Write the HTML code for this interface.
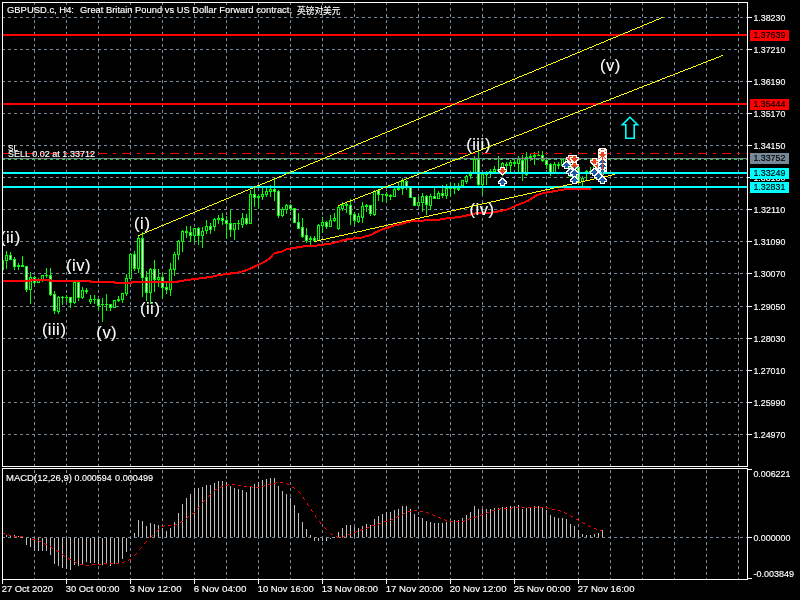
<!DOCTYPE html><html><head><meta charset="utf-8"><title>GBPUSD.c, H4</title>
<style>html,body{margin:0;padding:0;background:#000;width:800px;height:600px;overflow:hidden}svg{display:block;position:absolute;left:0;top:0}text{font-family:"Liberation Sans","Noto Sans CJK SC",sans-serif;font-size:9.6px;fill:#fff;white-space:pre;stroke:#fff;stroke-width:.15px}.w{font-size:16.6px;stroke:#fff;stroke-width:.1px}.k{fill:#000;stroke:#000}</style></head><body>
<svg width="800" height="600" viewBox="0 0 800 600">
<rect width="800" height="600" fill="#000"/>
<g shape-rendering="crispEdges" fill="none">
<g stroke="#778899" stroke-width="1" stroke-dasharray="3 3">
<line x1="34.5" y1="2" x2="34.5" y2="466"/>
<line x1="34.5" y1="470" x2="34.5" y2="579"/>
<line x1="66.5" y1="2" x2="66.5" y2="466"/>
<line x1="66.5" y1="470" x2="66.5" y2="579"/>
<line x1="98.5" y1="2" x2="98.5" y2="466"/>
<line x1="98.5" y1="470" x2="98.5" y2="579"/>
<line x1="130.5" y1="2" x2="130.5" y2="466"/>
<line x1="130.5" y1="470" x2="130.5" y2="579"/>
<line x1="162.5" y1="2" x2="162.5" y2="466"/>
<line x1="162.5" y1="470" x2="162.5" y2="579"/>
<line x1="194.5" y1="2" x2="194.5" y2="466"/>
<line x1="194.5" y1="470" x2="194.5" y2="579"/>
<line x1="226.5" y1="2" x2="226.5" y2="466"/>
<line x1="226.5" y1="470" x2="226.5" y2="579"/>
<line x1="258.5" y1="2" x2="258.5" y2="466"/>
<line x1="258.5" y1="470" x2="258.5" y2="579"/>
<line x1="290.5" y1="2" x2="290.5" y2="466"/>
<line x1="290.5" y1="470" x2="290.5" y2="579"/>
<line x1="322.5" y1="2" x2="322.5" y2="466"/>
<line x1="322.5" y1="470" x2="322.5" y2="579"/>
<line x1="354.5" y1="2" x2="354.5" y2="466"/>
<line x1="354.5" y1="470" x2="354.5" y2="579"/>
<line x1="386.5" y1="2" x2="386.5" y2="466"/>
<line x1="386.5" y1="470" x2="386.5" y2="579"/>
<line x1="418.5" y1="2" x2="418.5" y2="466"/>
<line x1="418.5" y1="470" x2="418.5" y2="579"/>
<line x1="450.5" y1="2" x2="450.5" y2="466"/>
<line x1="450.5" y1="470" x2="450.5" y2="579"/>
<line x1="482.5" y1="2" x2="482.5" y2="466"/>
<line x1="482.5" y1="470" x2="482.5" y2="579"/>
<line x1="514.5" y1="2" x2="514.5" y2="466"/>
<line x1="514.5" y1="470" x2="514.5" y2="579"/>
<line x1="546.5" y1="2" x2="546.5" y2="466"/>
<line x1="546.5" y1="470" x2="546.5" y2="579"/>
<line x1="578.5" y1="2" x2="578.5" y2="466"/>
<line x1="578.5" y1="470" x2="578.5" y2="579"/>
<line x1="610.5" y1="2" x2="610.5" y2="466"/>
<line x1="610.5" y1="470" x2="610.5" y2="579"/>
<line x1="642.5" y1="2" x2="642.5" y2="466"/>
<line x1="642.5" y1="470" x2="642.5" y2="579"/>
<line x1="674.5" y1="2" x2="674.5" y2="466"/>
<line x1="674.5" y1="470" x2="674.5" y2="579"/>
<line x1="706.5" y1="2" x2="706.5" y2="466"/>
<line x1="706.5" y1="470" x2="706.5" y2="579"/>
<line x1="738.5" y1="2" x2="738.5" y2="466"/>
<line x1="738.5" y1="470" x2="738.5" y2="579"/>
<line x1="2" y1="17.5" x2="748" y2="17.5"/>
<line x1="2" y1="49.5" x2="748" y2="49.5"/>
<line x1="2" y1="81.5" x2="748" y2="81.5"/>
<line x1="2" y1="113.5" x2="748" y2="113.5"/>
<line x1="2" y1="145.5" x2="748" y2="145.5"/>
<line x1="2" y1="177.5" x2="748" y2="177.5"/>
<line x1="2" y1="209.5" x2="748" y2="209.5"/>
<line x1="2" y1="241.5" x2="748" y2="241.5"/>
<line x1="2" y1="273.5" x2="748" y2="273.5"/>
<line x1="2" y1="306.5" x2="748" y2="306.5"/>
<line x1="2" y1="338.5" x2="748" y2="338.5"/>
<line x1="2" y1="370.5" x2="748" y2="370.5"/>
<line x1="2" y1="402.5" x2="748" y2="402.5"/>
<line x1="2" y1="434.5" x2="748" y2="434.5"/>
<line x1="2" y1="537.5" x2="748" y2="537.5"/>
</g>
</g>
<g shape-rendering="crispEdges">
<path fill="#c0c0c0" d="M6 535h1v2h-1zM10 535h1v2h-1zM14 535h1v2h-1zM18 536h1v1h-1zM22 537h1v1h-1zM26 538h1v7h-1zM30 538h1v9h-1zM34 538h1v13h-1zM38 538h1v13h-1zM42 538h1v13h-1zM46 538h1v13h-1zM50 538h1v17h-1zM54 538h1v26h-1zM58 538h1v28h-1zM62 538h1v30h-1zM66 538h1v31h-1zM70 538h1v32h-1zM74 538h1v27h-1zM78 538h1v28h-1zM82 538h1v26h-1zM86 538h1v24h-1zM90 538h1v25h-1zM94 538h1v25h-1zM98 538h1v27h-1zM102 538h1v27h-1zM106 538h1v26h-1zM110 538h1v28h-1zM114 538h1v26h-1zM118 538h1v26h-1zM122 538h1v21h-1zM126 538h1v14h-1zM130 538h1v1h-1zM134 533h1v4h-1zM138 520h1v17h-1zM142 521h1v16h-1zM146 526h1v11h-1zM150 523h1v14h-1zM154 524h1v13h-1zM158 525h1v12h-1zM162 528h1v9h-1zM166 531h1v6h-1zM170 528h1v9h-1zM174 522h1v15h-1zM178 513h1v24h-1zM182 504h1v33h-1zM186 498h1v39h-1zM190 494h1v43h-1zM194 488h1v49h-1zM198 488h1v49h-1zM202 487h1v50h-1zM206 485h1v52h-1zM210 485h1v52h-1zM214 483h1v54h-1zM218 481h1v56h-1zM222 481h1v56h-1zM226 482h1v55h-1zM230 486h1v51h-1zM234 488h1v49h-1zM238 489h1v48h-1zM242 490h1v47h-1zM246 492h1v45h-1zM250 486h1v51h-1zM254 484h1v53h-1zM258 482h1v55h-1zM262 480h1v57h-1zM266 479h1v58h-1zM270 478h1v59h-1zM274 478h1v59h-1zM278 486h1v51h-1zM282 491h1v46h-1zM286 494h1v43h-1zM290 498h1v39h-1zM294 505h1v32h-1zM298 513h1v24h-1zM302 522h1v15h-1zM306 529h1v8h-1zM310 535h1v2h-1zM314 538h1v3h-1zM318 538h1v3h-1zM322 538h1v3h-1zM326 538h1v3h-1zM330 538h1v1h-1zM334 537h1v1h-1zM338 532h1v5h-1zM342 528h1v9h-1zM346 525h1v12h-1zM350 525h1v12h-1zM354 527h1v10h-1zM358 528h1v9h-1zM362 526h1v11h-1zM366 524h1v13h-1zM370 525h1v12h-1zM374 519h1v18h-1zM378 516h1v21h-1zM382 514h1v23h-1zM386 512h1v25h-1zM390 512h1v25h-1zM394 510h1v27h-1zM398 509h1v28h-1zM402 506h1v31h-1zM406 506h1v31h-1zM410 509h1v28h-1zM414 514h1v23h-1zM418 517h1v20h-1zM422 518h1v19h-1zM426 521h1v16h-1zM430 522h1v15h-1zM434 523h1v14h-1zM438 523h1v14h-1zM442 523h1v14h-1zM446 522h1v15h-1zM450 521h1v16h-1zM454 520h1v17h-1zM458 520h1v17h-1zM462 518h1v19h-1zM466 515h1v22h-1zM470 512h1v25h-1zM474 506h1v31h-1zM478 509h1v28h-1zM482 509h1v28h-1zM486 509h1v28h-1zM490 509h1v28h-1zM494 508h1v29h-1zM498 508h1v29h-1zM502 507h1v30h-1zM506 507h1v30h-1zM510 506h1v31h-1zM514 506h1v31h-1zM518 505h1v32h-1zM522 509h1v28h-1zM526 508h1v29h-1zM530 507h1v30h-1zM534 506h1v31h-1zM538 506h1v31h-1zM542 507h1v30h-1zM546 510h1v27h-1zM550 515h1v22h-1zM554 517h1v20h-1zM558 518h1v19h-1zM562 518h1v19h-1zM566 519h1v18h-1zM570 524h1v13h-1zM574 526h1v11h-1zM578 530h1v7h-1zM582 534h1v3h-1zM586 535h1v2h-1zM590 535h1v2h-1zM594 534h1v3h-1zM598 533h1v4h-1zM602 530h1v7h-1z"/>
<path fill="#ff0000" d="M3 533h1v1h-1zM4 533h1v1h-1zM8 534h1v1h-1zM9 535h1v1h-1zM10 535h1v1h-1zM14 536h1v1h-1zM15 536h1v1h-1zM16 536h1v1h-1zM20 536h1v1h-1zM21 536h1v1h-1zM22 536h1v1h-1zM32 539h1v1h-1zM33 539h1v1h-1zM34 539h1v1h-1zM38 540h1v1h-1zM39 541h1v1h-1zM40 541h1v1h-1zM44 543h1v1h-1zM45 544h1v1h-1zM46 544h1v1h-1zM50 546h1v1h-1zM51 547h1v1h-1zM52 548h1v1h-1zM56 550h1v1h-1zM57 551h1v1h-1zM58 551h1v1h-1zM62 554h1v1h-1zM63 555h1v1h-1zM64 556h1v1h-1zM68 558h1v1h-1zM69 559h1v1h-1zM70 559h1v1h-1zM74 561h1v1h-1zM75 562h1v1h-1zM76 562h1v1h-1zM80 564h1v1h-1zM81 564h1v1h-1zM82 564h1v1h-1zM86 565h1v1h-1zM87 565h1v1h-1zM88 565h1v1h-1zM92 564h1v1h-1zM93 564h1v1h-1zM94 564h1v1h-1zM98 564h1v1h-1zM99 564h1v1h-1zM100 564h1v1h-1zM104 563h1v1h-1zM105 563h1v1h-1zM106 563h1v1h-1zM110 563h1v1h-1zM111 563h1v1h-1zM112 563h1v1h-1zM116 563h1v1h-1zM117 563h1v1h-1zM118 563h1v1h-1zM122 562h1v1h-1zM123 562h1v1h-1zM124 561h1v1h-1zM128 560h1v1h-1zM129 559h1v1h-1zM130 559h1v1h-1zM134 555h1v1h-1zM135 554h1v1h-1zM136 553h1v1h-1zM139 549h1v1h-1zM140 548h1v1h-1zM141 547h1v1h-1zM144 543h1v1h-1zM145 542h1v1h-1zM146 541h1v1h-1zM150 537h1v1h-1zM151 536h1v1h-1zM152 535h1v1h-1zM156 531h1v1h-1zM157 530h1v1h-1zM158 529h1v1h-1zM162 526h1v1h-1zM163 526h1v1h-1zM164 525h1v1h-1zM168 525h1v1h-1zM169 525h1v1h-1zM170 525h1v1h-1zM174 525h1v1h-1zM175 524h1v1h-1zM176 524h1v1h-1zM180 522h1v1h-1zM181 521h1v1h-1zM182 521h1v1h-1zM186 518h1v1h-1zM187 517h1v1h-1zM188 516h1v1h-1zM192 513h1v1h-1zM193 513h1v1h-1zM194 512h1v1h-1zM197 508h1v1h-1zM198 507h1v1h-1zM199 506h1v1h-1zM202 502h1v1h-1zM203 501h1v1h-1zM204 500h1v1h-1zM208 496h1v1h-1zM209 495h1v1h-1zM210 494h1v1h-1zM214 490h1v1h-1zM215 489h1v1h-1zM216 489h1v1h-1zM220 487h1v1h-1zM221 486h1v1h-1zM222 486h1v1h-1zM226 485h1v1h-1zM227 485h1v1h-1zM228 484h1v1h-1zM232 484h1v1h-1zM233 484h1v1h-1zM234 484h1v1h-1zM238 485h1v1h-1zM239 485h1v1h-1zM240 485h1v1h-1zM244 486h1v1h-1zM245 486h1v1h-1zM246 486h1v1h-1zM250 486h1v1h-1zM251 486h1v1h-1zM252 487h1v1h-1zM256 487h1v1h-1zM257 487h1v1h-1zM258 487h1v1h-1zM262 486h1v1h-1zM263 486h1v1h-1zM264 485h1v1h-1zM268 484h1v1h-1zM269 484h1v1h-1zM270 484h1v1h-1zM274 483h1v1h-1zM275 483h1v1h-1zM276 482h1v1h-1zM280 482h1v1h-1zM281 482h1v1h-1zM282 482h1v1h-1zM286 483h1v1h-1zM287 484h1v1h-1zM288 484h1v1h-1zM292 487h1v1h-1zM293 487h1v1h-1zM294 488h1v1h-1zM298 491h1v1h-1zM299 492h1v1h-1zM300 493h1v1h-1zM303 497h1v1h-1zM303 498h1v1h-1zM304 499h1v1h-1zM307 503h1v1h-1zM307 504h1v1h-1zM308 505h1v1h-1zM311 509h1v1h-1zM311 510h1v1h-1zM312 511h1v1h-1zM315 515h1v1h-1zM315 516h1v1h-1zM316 517h1v1h-1zM319 521h1v1h-1zM320 522h1v1h-1zM320 523h1v1h-1zM324 527h1v1h-1zM325 528h1v1h-1zM326 529h1v1h-1zM330 533h1v1h-1zM331 534h1v1h-1zM332 534h1v1h-1zM336 536h1v1h-1zM337 537h1v1h-1zM338 537h1v1h-1zM342 537h1v1h-1zM343 536h1v1h-1zM344 536h1v1h-1zM348 534h1v1h-1zM349 534h1v1h-1zM350 534h1v1h-1zM354 532h1v1h-1zM355 532h1v1h-1zM356 531h1v1h-1zM360 530h1v1h-1zM361 529h1v1h-1zM362 529h1v1h-1zM366 528h1v1h-1zM367 527h1v1h-1zM368 527h1v1h-1zM372 525h1v1h-1zM373 525h1v1h-1zM374 525h1v1h-1zM378 524h1v1h-1zM379 523h1v1h-1zM380 523h1v1h-1zM384 521h1v1h-1zM385 521h1v1h-1zM386 521h1v1h-1zM390 520h1v1h-1zM391 519h1v1h-1zM392 519h1v1h-1zM396 517h1v1h-1zM397 516h1v1h-1zM398 516h1v1h-1zM402 514h1v1h-1zM403 513h1v1h-1zM404 513h1v1h-1zM408 511h1v1h-1zM409 511h1v1h-1zM410 511h1v1h-1zM414 510h1v1h-1zM415 510h1v1h-1zM416 510h1v1h-1zM420 511h1v1h-1zM421 511h1v1h-1zM422 511h1v1h-1zM426 512h1v1h-1zM427 512h1v1h-1zM428 513h1v1h-1zM432 514h1v1h-1zM433 515h1v1h-1zM434 515h1v1h-1zM438 517h1v1h-1zM439 517h1v1h-1zM440 518h1v1h-1zM444 519h1v1h-1zM445 520h1v1h-1zM446 520h1v1h-1zM450 521h1v1h-1zM451 521h1v1h-1zM452 521h1v1h-1zM456 521h1v1h-1zM457 521h1v1h-1zM458 521h1v1h-1zM462 521h1v1h-1zM463 521h1v1h-1zM464 520h1v1h-1zM468 519h1v1h-1zM469 518h1v1h-1zM470 518h1v1h-1zM474 517h1v1h-1zM475 517h1v1h-1zM476 516h1v1h-1zM480 515h1v1h-1zM481 514h1v1h-1zM482 514h1v1h-1zM486 513h1v1h-1zM487 512h1v1h-1zM488 512h1v1h-1zM492 510h1v1h-1zM493 510h1v1h-1zM494 510h1v1h-1zM498 509h1v1h-1zM499 509h1v1h-1zM500 508h1v1h-1zM504 508h1v1h-1zM505 508h1v1h-1zM506 508h1v1h-1zM510 508h1v1h-1zM511 508h1v1h-1zM512 507h1v1h-1zM516 507h1v1h-1zM517 507h1v1h-1zM518 507h1v1h-1zM522 507h1v1h-1zM523 507h1v1h-1zM524 507h1v1h-1zM528 507h1v1h-1zM529 507h1v1h-1zM530 507h1v1h-1zM534 507h1v1h-1zM535 507h1v1h-1zM536 507h1v1h-1zM540 507h1v1h-1zM541 507h1v1h-1zM542 507h1v1h-1zM546 507h1v1h-1zM547 507h1v1h-1zM548 508h1v1h-1zM552 509h1v1h-1zM553 509h1v1h-1zM554 509h1v1h-1zM558 510h1v1h-1zM559 510h1v1h-1zM560 511h1v1h-1zM564 512h1v1h-1zM565 513h1v1h-1zM566 513h1v1h-1zM570 515h1v1h-1zM571 516h1v1h-1zM572 516h1v1h-1zM576 519h1v1h-1zM577 519h1v1h-1zM578 520h1v1h-1zM582 522h1v1h-1zM583 523h1v1h-1zM584 523h1v1h-1zM588 525h1v1h-1zM589 526h1v1h-1zM590 526h1v1h-1zM594 528h1v1h-1zM595 528h1v1h-1zM596 529h1v1h-1zM600 530h1v1h-1zM601 530h1v1h-1z"/>
</g>
<g shape-rendering="crispEdges">
<path fill="#00ff00" d="M2 258h1v15h-1zM6 251h1v18h-1zM10 252h1v8h-1zM14 257h1v13h-1zM18 263h1v7h-1zM22 256h1v11h-1zM26 266h1v26h-1zM30 272h1v32h-1zM34 276h1v10h-1zM38 278h1v5h-1zM42 275h1v7h-1zM46 268h1v10h-1zM50 268h1v28h-1zM54 291h1v23h-1zM58 296h1v18h-1zM62 296h1v9h-1zM66 295h1v7h-1zM70 297h1v11h-1zM74 282h1v22h-1zM78 282h1v19h-1zM82 287h1v12h-1zM86 288h1v6h-1zM90 295h1v9h-1zM94 295h1v9h-1zM98 299h1v12h-1zM102 298h1v24h-1zM106 294h1v17h-1zM110 304h1v7h-1zM114 300h1v8h-1zM118 296h1v6h-1zM122 293h1v10h-1zM126 274h1v22h-1zM130 253h1v26h-1zM134 251h1v20h-1zM138 236h1v37h-1zM142 232h1v65h-1zM146 271h1v30h-1zM150 268h1v36h-1zM154 260h1v32h-1zM158 269h1v18h-1zM162 273h1v26h-1zM166 283h1v11h-1zM170 263h1v33h-1zM174 252h1v24h-1zM178 240h1v20h-1zM182 230h1v22h-1zM186 226h1v12h-1zM190 226h1v16h-1zM194 228h1v14h-1zM198 227h1v18h-1zM202 227h1v21h-1zM206 220h1v14h-1zM210 223h1v11h-1zM214 218h1v13h-1zM218 215h1v9h-1zM222 213h1v12h-1zM226 216h1v23h-1zM230 210h1v27h-1zM234 223h1v17h-1zM238 220h1v10h-1zM242 213h1v15h-1zM246 214h1v11h-1zM250 190h1v34h-1zM254 188h1v19h-1zM258 194h1v15h-1zM262 188h1v12h-1zM266 188h1v9h-1zM270 185h1v12h-1zM274 178h1v23h-1zM278 190h1v28h-1zM282 207h1v10h-1zM286 204h1v10h-1zM290 204h1v7h-1zM294 208h1v15h-1zM298 213h1v16h-1zM302 218h1v20h-1zM306 228h1v15h-1zM310 236h1v10h-1zM314 236h1v6h-1zM318 224h1v17h-1zM322 217h1v16h-1zM326 221h1v8h-1zM330 215h1v12h-1zM334 213h1v9h-1zM338 206h1v24h-1zM342 202h1v9h-1zM346 202h1v11h-1zM350 199h1v26h-1zM354 212h1v13h-1zM358 213h1v10h-1zM362 202h1v21h-1zM366 204h1v8h-1zM370 205h1v11h-1zM374 190h1v26h-1zM378 190h1v11h-1zM382 194h1v8h-1zM386 192h1v11h-1zM390 194h1v6h-1zM394 188h1v9h-1zM398 182h1v9h-1zM402 178h1v17h-1zM406 180h1v10h-1zM410 186h1v12h-1zM414 197h1v9h-1zM418 197h1v9h-1zM422 193h1v19h-1zM426 195h1v20h-1zM430 194h1v16h-1zM434 188h1v11h-1zM438 191h1v8h-1zM442 185h1v13h-1zM446 184h1v15h-1zM450 182h1v15h-1zM454 183h1v11h-1zM458 183h1v8h-1zM462 180h1v6h-1zM466 175h1v9h-1zM470 171h1v8h-1zM474 156h1v18h-1zM478 150h1v37h-1zM482 174h1v21h-1zM486 171h1v14h-1zM490 169h1v8h-1zM494 166h1v7h-1zM498 156h1v15h-1zM502 162h1v8h-1zM506 162h1v9h-1zM510 160h1v12h-1zM514 159h1v8h-1zM518 156h1v16h-1zM522 155h1v26h-1zM526 152h1v24h-1zM530 153h1v8h-1zM534 152h1v13h-1zM538 151h1v5h-1zM542 151h1v11h-1zM546 157h1v12h-1zM550 163h1v13h-1zM554 162h1v11h-1zM558 162h1v7h-1zM562 158h1v8h-1zM566 158h1v9h-1zM570 160h1v17h-1zM574 165h1v18h-1zM578 166h1v19h-1zM582 176h1v11h-1zM586 170h1v11h-1zM590 167h1v8h-1zM594 165h1v8h-1zM598 162h1v14h-1zM602 158h1v19h-1z"/>
<path fill="#00ff00" d="M1 260h3v10h-3zM5 255h3v6h-3zM9 255h3v5h-3zM13 259h3v8h-3zM17 265h3v2h-3zM21 265h3v2h-3zM25 266h3v24h-3zM29 277h3v13h-3zM33 277h3v6h-3zM37 279h3v4h-3zM41 275h3v5h-3zM45 275h3v1h-3zM49 275h3v20h-3zM53 294h3v17h-3zM57 297h3v15h-3zM61 297h3v1h-3zM65 297h3v1h-3zM69 297h3v6h-3zM73 282h3v21h-3zM77 282h3v16h-3zM81 290h3v8h-3zM85 290h3v2h-3zM89 299h3v3h-3zM93 299h3v1h-3zM97 299h3v7h-3zM101 304h3v1h-3zM105 304h3v1h-3zM109 304h3v4h-3zM113 300h3v8h-3zM117 299h3v2h-3zM121 293h3v7h-3zM125 278h3v16h-3zM129 254h3v25h-3zM133 254h3v15h-3zM137 238h3v31h-3zM141 238h3v40h-3zM145 277h3v16h-3zM149 269h3v24h-3zM153 269h3v11h-3zM157 277h3v3h-3zM161 277h3v11h-3zM165 287h3v3h-3zM169 269h3v21h-3zM173 254h3v16h-3zM177 241h3v14h-3zM181 231h3v11h-3zM185 231h3v2h-3zM189 232h3v4h-3zM193 228h3v8h-3zM197 228h3v8h-3zM201 231h3v5h-3zM205 226h3v5h-3zM209 226h3v4h-3zM213 219h3v8h-3zM217 218h3v2h-3zM221 218h3v3h-3zM225 220h3v4h-3zM229 223h3v7h-3zM233 223h3v7h-3zM237 223h3v1h-3zM241 218h3v7h-3zM245 218h3v6h-3zM249 194h3v30h-3zM253 194h3v4h-3zM257 196h3v2h-3zM261 194h3v3h-3zM265 191h3v4h-3zM269 189h3v3h-3zM273 189h3v3h-3zM277 191h3v25h-3zM281 209h3v7h-3zM285 205h3v5h-3zM289 205h3v4h-3zM293 208h3v15h-3zM297 222h3v7h-3zM301 227h3v10h-3zM305 235h3v6h-3zM309 238h3v2h-3zM313 238h3v3h-3zM317 225h3v16h-3zM321 222h3v4h-3zM325 222h3v5h-3zM329 220h3v7h-3zM333 218h3v3h-3zM337 207h3v22h-3zM341 205h3v4h-3zM345 204h3v2h-3zM349 205h3v10h-3zM353 214h3v7h-3zM357 216h3v6h-3zM361 206h3v12h-3zM365 205h3v2h-3zM369 205h3v9h-3zM373 191h3v24h-3zM377 190h3v5h-3zM381 194h3v1h-3zM385 194h3v2h-3zM389 195h3v2h-3zM393 189h3v8h-3zM397 188h3v2h-3zM401 181h3v8h-3zM405 181h3v6h-3zM409 186h3v12h-3zM413 197h3v9h-3zM417 202h3v4h-3zM421 196h3v7h-3zM425 196h3v9h-3zM429 196h3v10h-3zM433 196h3v3h-3zM437 193h3v6h-3zM441 193h3v3h-3zM445 188h3v8h-3zM449 187h3v2h-3zM453 188h3v1h-3zM457 188h3v2h-3zM461 180h3v6h-3zM465 176h3v6h-3zM469 174h3v2h-3zM473 159h3v15h-3zM477 159h3v26h-3zM481 174h3v11h-3zM485 172h3v3h-3zM489 171h3v3h-3zM493 169h3v3h-3zM497 169h3v2h-3zM501 163h3v5h-3zM505 164h3v2h-3zM509 162h3v4h-3zM513 162h3v2h-3zM517 159h3v5h-3zM521 160h3v13h-3zM525 157h3v18h-3zM529 156h3v3h-3zM533 155h3v2h-3zM537 155h3v1h-3zM541 155h3v6h-3zM545 160h3v5h-3zM549 164h3v9h-3zM553 164h3v9h-3zM557 164h3v2h-3zM561 159h3v7h-3zM565 159h3v3h-3zM569 167h3v10h-3zM573 168h3v13h-3zM577 167h3v16h-3zM581 178h3v4h-3zM585 171h3v2h-3zM589 171h3v2h-3zM593 166h3v5h-3zM597 165h3v8h-3zM601 160h3v15h-3z"/>
<path fill="#000" d="M2 261h1v8h-1zM6 256h1v4h-1zM30 278h1v11h-1zM38 280h1v2h-1zM42 276h1v3h-1zM58 298h1v13h-1zM74 283h1v19h-1zM82 291h1v6h-1zM90 300h1v1h-1zM114 301h1v6h-1zM122 294h1v5h-1zM126 279h1v14h-1zM130 255h1v23h-1zM138 239h1v29h-1zM150 270h1v22h-1zM158 278h1v1h-1zM170 270h1v19h-1zM174 255h1v14h-1zM178 242h1v12h-1zM182 232h1v9h-1zM194 229h1v6h-1zM202 232h1v3h-1zM206 227h1v3h-1zM214 220h1v6h-1zM234 224h1v5h-1zM242 219h1v5h-1zM250 195h1v28h-1zM262 195h1v1h-1zM266 192h1v2h-1zM270 190h1v1h-1zM282 210h1v5h-1zM286 206h1v3h-1zM318 226h1v14h-1zM322 223h1v2h-1zM330 221h1v5h-1zM334 219h1v1h-1zM338 208h1v20h-1zM342 206h1v2h-1zM358 217h1v4h-1zM362 207h1v10h-1zM374 192h1v22h-1zM394 190h1v6h-1zM402 182h1v6h-1zM418 203h1v2h-1zM422 197h1v5h-1zM430 197h1v8h-1zM438 194h1v4h-1zM446 189h1v6h-1zM462 181h1v4h-1zM466 177h1v4h-1zM474 160h1v13h-1zM482 175h1v9h-1zM486 173h1v1h-1zM490 172h1v1h-1zM494 170h1v1h-1zM502 164h1v3h-1zM510 163h1v2h-1zM518 160h1v3h-1zM526 158h1v16h-1zM554 165h1v7h-1zM562 160h1v5h-1zM566 160h1v1h-1zM574 169h1v11h-1zM582 179h1v2h-1zM594 167h1v3h-1z"/>
<path fill="#fff" d="M10 256h1v3h-1zM14 260h1v6h-1zM26 267h1v22h-1zM34 278h1v4h-1zM50 276h1v18h-1zM54 295h1v15h-1zM70 298h1v4h-1zM78 283h1v14h-1zM98 300h1v5h-1zM110 305h1v2h-1zM134 255h1v13h-1zM142 239h1v38h-1zM146 278h1v14h-1zM154 270h1v9h-1zM162 278h1v9h-1zM166 288h1v1h-1zM190 233h1v2h-1zM198 229h1v6h-1zM210 227h1v2h-1zM222 219h1v1h-1zM226 221h1v2h-1zM230 224h1v5h-1zM246 219h1v4h-1zM254 195h1v2h-1zM274 190h1v1h-1zM278 192h1v23h-1zM290 206h1v2h-1zM294 209h1v13h-1zM298 223h1v5h-1zM302 228h1v8h-1zM306 236h1v4h-1zM314 239h1v1h-1zM326 223h1v3h-1zM350 206h1v8h-1zM354 215h1v5h-1zM370 206h1v7h-1zM378 191h1v3h-1zM406 182h1v4h-1zM410 187h1v10h-1zM414 198h1v7h-1zM426 197h1v7h-1zM434 197h1v1h-1zM442 194h1v1h-1zM478 160h1v24h-1zM522 161h1v11h-1zM542 156h1v4h-1zM546 161h1v3h-1zM550 165h1v7h-1zM570 168h1v8h-1zM578 168h1v14h-1zM598 166h1v6h-1zM602 161h1v13h-1z"/>
</g>
<g shape-rendering="crispEdges">
<polyline fill="none" stroke="#ff0000" stroke-width="2" stroke-linejoin="round" points="3,281 30,281 31,280 50,280 51,281 90,281 91,282 114,282 115,283 131,283 132,282 178,282 179,281 186,280.25 194.75,279 202.25,278.1 211,276.9 218.5,275.25 226,274 236,272.9 243.5,271.25 248.5,269.4 253.5,266.9 258.5,264.75 266,261 269.75,258.1 274,253.5 278.5,252.25 282.25,251.5 287.25,249 292.25,248.1 301,246.9 306,245.75 317.25,245.5 322.25,244.75 329.75,243.75 336,242.25 342.25,240.6 348.5,239 354.75,238.25 362.25,237.5 366,236.25 371,235 376,232.25 382.25,229.4 388.5,227.5 393.5,225.6 399.75,224.4 406,222.5 412.25,221 422.25,220.75 428.5,220 438.5,219.75 443.5,218.75 453.5,217.75 462.25,216.5 468.5,215 474.75,213.5 481,213.1 492.25,212.75 498.5,211.25 506,210 511,208.1 516,205.6 522.25,203.1 528.5,200.6 534.75,196.25 541,193.75 547.25,192.25 556,191 560,190 567.5,189 591,189"/>
</g>
<g shape-rendering="crispEdges">
<rect x="3" y="34" width="744" height="2" fill="#ff0000"/>
<rect x="3" y="103" width="744" height="2" fill="#ff0000"/>
<line x1="2" y1="153.5" x2="747" y2="153.5" stroke="#ff0000" stroke-dasharray="9 6 3 6"/>
<rect x="3" y="158" width="744" height="1" fill="#778899"/>
<line x1="2" y1="159.5" x2="747" y2="159.5" stroke="#32cd32" stroke-dasharray="3 3"/>
<rect x="3" y="172" width="744" height="2" fill="#00ffff"/>
<rect x="3" y="186" width="744" height="2" fill="#00ffff"/>
</g>
<text class="w" x="0.10 6.00 10.10 14.70" y="242.85 243.15 243.15 242.85">(ii)</text>
<text class="w" x="66.10 72.00 76.30 84.90" y="270.85 271.15 271.15 270.85">(iv)</text>
<text class="w" x="41.90 47.80 51.90 56.00 60.60" y="334.60 334.90 334.90 334.90 334.60">(iii)</text>
<text class="w" x="96.30 102.40 111.00" y="337.85 338.15 337.85">(v)</text>
<text class="w" x="134.10 140.00 144.60" y="228.85 229.15 228.85">(i)</text>
<text class="w" x="140.00 145.90 150.00 154.60" y="313.85 314.15 314.15 313.85">(ii)</text>
<text class="w" x="466.30 472.20 476.30 480.40 485.00" y="150.10 150.40 150.40 150.40 150.10">(iii)</text>
<text class="w" x="469.60 475.50 479.80 488.40" y="214.50 214.80 214.80 214.50">(iv)</text>
<text class="w" x="600.00 606.10 614.70" y="70.70 71.00 70.70">(v)</text>
<g shape-rendering="crispEdges" stroke="#ffff00" stroke-width="1" fill="none">
<path stroke="none" fill="#ffff00" d="M138 235h2v1h-2zM140 234h2v1h-2zM142 233h3v1h-3zM145 232h2v1h-2zM147 231h2v1h-2zM149 230h3v1h-3zM152 229h2v1h-2zM154 228h3v1h-3zM157 227h2v1h-2zM159 226h2v1h-2zM161 225h3v1h-3zM164 224h2v1h-2zM166 223h3v1h-3zM169 222h2v1h-2zM171 221h2v1h-2zM173 220h3v1h-3zM176 219h2v1h-2zM178 218h3v1h-3zM181 217h2v1h-2zM183 216h2v1h-2zM185 215h3v1h-3zM188 214h2v1h-2zM190 213h3v1h-3zM193 212h2v1h-2zM195 211h2v1h-2zM197 210h3v1h-3zM200 209h2v1h-2zM202 208h3v1h-3zM205 207h2v1h-2zM207 206h2v1h-2zM209 205h3v1h-3zM212 204h2v1h-2zM214 203h3v1h-3zM217 202h2v1h-2zM219 201h2v1h-2zM221 200h3v1h-3zM224 199h2v1h-2zM226 198h3v1h-3zM229 197h2v1h-2zM231 196h2v1h-2zM233 195h3v1h-3zM236 194h2v1h-2zM238 193h3v1h-3zM241 192h2v1h-2zM243 191h2v1h-2zM245 190h3v1h-3zM248 189h2v1h-2zM250 188h3v1h-3zM253 187h2v1h-2zM255 186h2v1h-2zM257 185h3v1h-3zM260 184h2v1h-2zM262 183h3v1h-3zM265 182h2v1h-2zM267 181h3v1h-3zM270 180h2v1h-2zM272 179h2v1h-2zM274 178h3v1h-3zM277 177h2v1h-2zM279 176h3v1h-3zM282 175h2v1h-2zM284 174h2v1h-2zM286 173h3v1h-3zM289 172h2v1h-2zM291 171h3v1h-3zM294 170h2v1h-2zM296 169h2v1h-2zM298 168h3v1h-3zM301 167h2v1h-2zM303 166h3v1h-3zM306 165h2v1h-2zM308 164h2v1h-2zM310 163h3v1h-3zM313 162h2v1h-2zM315 161h3v1h-3zM318 160h2v1h-2zM320 159h2v1h-2zM322 158h3v1h-3zM325 157h2v1h-2zM327 156h3v1h-3zM330 155h2v1h-2zM332 154h2v1h-2zM334 153h3v1h-3zM337 152h2v1h-2zM339 151h3v1h-3zM342 150h2v1h-2zM344 149h2v1h-2zM346 148h3v1h-3zM349 147h2v1h-2zM351 146h3v1h-3zM354 145h2v1h-2zM356 144h2v1h-2zM358 143h3v1h-3zM361 142h2v1h-2zM363 141h3v1h-3zM366 140h2v1h-2zM368 139h2v1h-2zM370 138h3v1h-3zM373 137h2v1h-2zM375 136h3v1h-3zM378 135h2v1h-2zM380 134h2v1h-2zM382 133h3v1h-3zM385 132h2v1h-2zM387 131h3v1h-3zM390 130h2v1h-2zM392 129h2v1h-2zM394 128h3v1h-3zM397 127h2v1h-2zM399 126h3v1h-3zM402 125h2v1h-2zM404 124h3v1h-3zM407 123h2v1h-2zM409 122h2v1h-2zM411 121h3v1h-3zM414 120h2v1h-2zM416 119h3v1h-3zM419 118h2v1h-2zM421 117h2v1h-2zM423 116h3v1h-3zM426 115h2v1h-2zM428 114h3v1h-3zM431 113h2v1h-2zM433 112h2v1h-2zM435 111h3v1h-3zM438 110h2v1h-2zM440 109h3v1h-3zM443 108h2v1h-2zM445 107h2v1h-2zM447 106h3v1h-3zM450 105h2v1h-2zM452 104h3v1h-3zM455 103h2v1h-2zM457 102h2v1h-2zM459 101h3v1h-3zM462 100h2v1h-2zM464 99h3v1h-3zM467 98h2v1h-2zM469 97h2v1h-2zM471 96h3v1h-3zM474 95h2v1h-2zM476 94h3v1h-3zM479 93h2v1h-2zM481 92h2v1h-2zM483 91h3v1h-3zM486 90h2v1h-2zM488 89h3v1h-3zM491 88h2v1h-2zM493 87h2v1h-2zM495 86h3v1h-3zM498 85h2v1h-2zM500 84h3v1h-3zM503 83h2v1h-2zM505 82h2v1h-2zM507 81h3v1h-3zM510 80h2v1h-2zM512 79h3v1h-3zM515 78h2v1h-2zM517 77h2v1h-2zM519 76h3v1h-3zM522 75h2v1h-2zM524 74h3v1h-3zM527 73h2v1h-2zM529 72h3v1h-3zM532 71h2v1h-2zM534 70h2v1h-2zM536 69h3v1h-3zM539 68h2v1h-2zM541 67h3v1h-3zM544 66h2v1h-2zM546 65h2v1h-2zM548 64h3v1h-3zM551 63h2v1h-2zM553 62h3v1h-3zM556 61h2v1h-2zM558 60h2v1h-2zM560 59h3v1h-3zM563 58h2v1h-2zM565 57h3v1h-3zM568 56h2v1h-2zM570 55h2v1h-2zM572 54h3v1h-3zM575 53h2v1h-2zM577 52h3v1h-3zM580 51h2v1h-2zM582 50h2v1h-2zM584 49h3v1h-3zM587 48h2v1h-2zM589 47h3v1h-3zM592 46h2v1h-2zM594 45h2v1h-2zM596 44h3v1h-3zM599 43h2v1h-2zM601 42h3v1h-3zM604 41h2v1h-2zM606 40h2v1h-2zM608 39h3v1h-3zM611 38h2v1h-2zM613 37h3v1h-3zM616 36h2v1h-2zM618 35h2v1h-2zM620 34h3v1h-3zM623 33h2v1h-2zM625 32h3v1h-3zM628 31h2v1h-2zM630 30h2v1h-2zM632 29h3v1h-3zM635 28h2v1h-2zM637 27h3v1h-3zM640 26h2v1h-2zM642 25h2v1h-2zM644 24h3v1h-3zM647 23h2v1h-2zM649 22h3v1h-3zM652 21h2v1h-2zM654 20h2v1h-2zM656 19h3v1h-3zM659 18h2v1h-2zM661 17h2v1h-2z"/>
<path stroke="none" fill="#ffff00" d="M338 205h2v1h-2zM340 204h2v1h-2zM342 203h3v1h-3zM345 202h2v1h-2zM347 201h3v1h-3zM350 200h3v1h-3zM353 199h2v1h-2zM355 198h3v1h-3zM358 197h2v1h-2zM360 196h3v1h-3zM363 195h2v1h-2zM365 194h3v1h-3zM368 193h3v1h-3zM371 192h2v1h-2zM373 191h3v1h-3zM376 190h2v1h-2zM378 189h3v1h-3zM381 188h2v1h-2zM383 187h3v1h-3zM386 186h2v1h-2zM388 185h3v1h-3zM391 184h3v1h-3zM394 183h2v1h-2zM396 182h3v1h-3zM399 181h2v1h-2zM401 180h3v1h-3zM404 179h2v1h-2zM406 178h3v1h-3zM409 177h2v1h-2zM411 176h3v1h-3zM414 175h3v1h-3zM417 174h2v1h-2zM419 173h3v1h-3zM422 172h2v1h-2zM424 171h3v1h-3zM427 170h2v1h-2zM429 169h3v1h-3zM432 168h3v1h-3zM435 167h2v1h-2zM437 166h3v1h-3zM440 165h2v1h-2zM442 164h3v1h-3zM445 163h2v1h-2zM447 162h3v1h-3zM450 161h2v1h-2zM452 160h3v1h-3zM455 159h3v1h-3zM458 158h2v1h-2zM460 157h3v1h-3zM463 156h2v1h-2zM465 155h3v1h-3zM468 154h2v1h-2zM470 153h3v1h-3zM473 152h2v1h-2zM475 151h3v1h-3zM478 150h3v1h-3zM481 149h2v1h-2zM483 148h3v1h-3zM486 147h2v1h-2zM488 146h3v1h-3zM491 145h2v1h-2zM493 144h3v1h-3zM496 143h3v1h-3zM499 142h2v1h-2zM501 141h3v1h-3zM504 140h2v1h-2zM506 139h3v1h-3zM509 138h2v1h-2zM511 137h3v1h-3zM514 136h2v1h-2zM516 135h3v1h-3zM519 134h3v1h-3zM522 133h2v1h-2zM524 132h3v1h-3zM527 131h2v1h-2zM529 130h3v1h-3zM532 129h2v1h-2zM534 128h3v1h-3zM537 127h2v1h-2zM539 126h3v1h-3zM542 125h3v1h-3zM545 124h2v1h-2zM547 123h3v1h-3zM550 122h2v1h-2zM552 121h3v1h-3zM555 120h2v1h-2zM557 119h3v1h-3zM560 118h3v1h-3zM563 117h2v1h-2zM565 116h3v1h-3zM568 115h2v1h-2zM570 114h3v1h-3zM573 113h2v1h-2zM575 112h3v1h-3zM578 111h2v1h-2zM580 110h3v1h-3zM583 109h3v1h-3zM586 108h2v1h-2zM588 107h3v1h-3zM591 106h2v1h-2zM593 105h3v1h-3zM596 104h2v1h-2zM598 103h3v1h-3zM601 102h2v1h-2zM603 101h3v1h-3zM606 100h3v1h-3zM609 99h2v1h-2zM611 98h3v1h-3zM614 97h2v1h-2zM616 96h3v1h-3zM619 95h2v1h-2zM621 94h3v1h-3zM624 93h3v1h-3zM627 92h2v1h-2zM629 91h3v1h-3zM632 90h2v1h-2zM634 89h3v1h-3zM637 88h2v1h-2zM639 87h3v1h-3zM642 86h2v1h-2zM644 85h3v1h-3zM647 84h3v1h-3zM650 83h2v1h-2zM652 82h3v1h-3zM655 81h2v1h-2zM657 80h3v1h-3zM660 79h2v1h-2zM662 78h3v1h-3zM665 77h2v1h-2zM667 76h3v1h-3zM670 75h3v1h-3zM673 74h2v1h-2zM675 73h3v1h-3zM678 72h2v1h-2zM680 71h3v1h-3zM683 70h2v1h-2zM685 69h3v1h-3zM688 68h3v1h-3zM691 67h2v1h-2zM693 66h3v1h-3zM696 65h2v1h-2zM698 64h3v1h-3zM701 63h2v1h-2zM703 62h3v1h-3zM706 61h2v1h-2zM708 60h3v1h-3zM711 59h3v1h-3zM714 58h2v1h-2zM716 57h3v1h-3zM719 56h2v1h-2zM721 55h2v1h-2z"/>
<path stroke="none" fill="#ffff00" d="M314 241h3v1h-3zM317 240h4v1h-4zM321 239h5v1h-5zM326 238h4v1h-4zM330 237h5v1h-5zM335 236h4v1h-4zM339 235h5v1h-5zM344 234h4v1h-4zM348 233h5v1h-5zM353 232h4v1h-4zM357 231h5v1h-5zM362 230h4v1h-4zM366 229h4v1h-4zM370 228h5v1h-5zM375 227h4v1h-4zM379 226h5v1h-5zM384 225h4v1h-4zM388 224h5v1h-5zM393 223h4v1h-4zM397 222h5v1h-5zM402 221h4v1h-4zM406 220h5v1h-5zM411 219h4v1h-4zM415 218h5v1h-5zM420 217h4v1h-4zM424 216h5v1h-5zM429 215h4v1h-4zM433 214h5v1h-5zM438 213h4v1h-4zM442 212h5v1h-5zM447 211h4v1h-4zM451 210h5v1h-5zM456 209h4v1h-4zM460 208h5v1h-5zM465 207h4v1h-4zM469 206h4v1h-4zM473 205h5v1h-5zM478 204h4v1h-4zM482 203h5v1h-5zM487 202h4v1h-4zM491 201h5v1h-5zM496 200h4v1h-4zM500 199h5v1h-5zM505 198h4v1h-4zM509 197h5v1h-5zM514 196h4v1h-4zM518 195h5v1h-5zM523 194h4v1h-4zM527 193h5v1h-5zM532 192h4v1h-4zM536 191h5v1h-5zM541 190h4v1h-4zM545 189h5v1h-5zM550 188h4v1h-4zM554 187h5v1h-5zM559 186h4v1h-4zM563 185h4v1h-4zM567 184h5v1h-5zM572 183h4v1h-4zM576 182h5v1h-5zM581 181h4v1h-4zM585 180h5v1h-5zM590 179h4v1h-4zM594 178h5v1h-5zM599 177h4v1h-4zM603 176h5v1h-5zM608 175h4v1h-4zM612 174h3v1h-3z"/>
</g>
<g shape-rendering="crispEdges"><path fill="#fff" d="M500 167h5v1h-5zM500 168h5v1h-5zM498 169h9v1h-9zM498 170h9v1h-9zM498 171h9v1h-9zM499 172h7v1h-7zM500 173h5v1h-5zM501 174h3v1h-3z"/><path fill="#e6461e" d="M501 168h3v1h-3zM501 169h3v1h-3zM499 170h7v1h-7zM500 171h5v1h-5zM501 172h3v1h-3zM502 173h1v1h-1z"/><path fill="#fff" d="M501 178h3v1h-3zM500 179h5v1h-5zM499 180h7v1h-7zM498 181h9v1h-9zM498 182h9v1h-9zM498 183h9v1h-9zM500 184h5v1h-5zM500 185h5v1h-5z"/><path fill="#1e5aaa" d="M502 179h1v1h-1zM501 180h3v1h-3zM500 181h5v1h-5zM499 182h7v1h-7zM501 183h3v1h-3zM501 184h3v1h-3z"/><path fill="#fff" d="M565 161h3v1h-3zM564 162h5v1h-5zM563 163h7v1h-7zM562 164h9v1h-9zM562 165h9v1h-9zM562 166h9v1h-9zM564 167h5v1h-5zM564 168h5v1h-5z"/><path fill="#1e5aaa" d="M566 162h1v1h-1zM565 163h3v1h-3zM564 164h5v1h-5zM563 165h7v1h-7zM565 166h3v1h-3zM565 167h3v1h-3z"/><path fill="#fff" d="M568 155h5v1h-5zM568 156h5v1h-5zM566 157h9v1h-9zM566 158h9v1h-9zM566 159h9v1h-9zM567 160h7v1h-7zM568 161h5v1h-5zM569 162h3v1h-3z"/><path fill="#e6461e" d="M569 156h3v1h-3zM569 157h3v1h-3zM567 158h7v1h-7zM568 159h5v1h-5zM569 160h3v1h-3zM570 161h1v1h-1z"/><path fill="#fff" d="M569 168h3v1h-3zM568 169h5v1h-5zM567 170h7v1h-7zM566 171h9v1h-9zM566 172h9v1h-9zM566 173h9v1h-9zM568 174h5v1h-5zM568 175h5v1h-5z"/><path fill="#1e5aaa" d="M570 169h1v1h-1zM569 170h3v1h-3zM568 171h5v1h-5zM567 172h7v1h-7zM569 173h3v1h-3zM569 174h3v1h-3z"/><path fill="#fff" d="M572 155h5v1h-5zM572 156h5v1h-5zM570 157h9v1h-9zM570 158h9v1h-9zM570 159h9v1h-9zM571 160h7v1h-7zM572 161h5v1h-5zM573 162h3v1h-3z"/><path fill="#e6461e" d="M573 156h3v1h-3zM573 157h3v1h-3zM571 158h7v1h-7zM572 159h5v1h-5zM573 160h3v1h-3zM574 161h1v1h-1z"/><path fill="#fff" d="M572 162h5v1h-5zM572 163h5v1h-5zM570 164h9v1h-9zM570 165h9v1h-9zM570 166h9v1h-9zM571 167h7v1h-7zM572 168h5v1h-5zM573 169h3v1h-3z"/><path fill="#e6461e" d="M573 163h3v1h-3zM573 164h3v1h-3zM571 165h7v1h-7zM572 166h5v1h-5zM573 167h3v1h-3zM574 168h1v1h-1z"/><path fill="#fff" d="M573 169h3v1h-3zM572 170h5v1h-5zM571 171h7v1h-7zM570 172h9v1h-9zM570 173h9v1h-9zM570 174h9v1h-9zM572 175h5v1h-5zM572 176h5v1h-5z"/><path fill="#1e5aaa" d="M574 170h1v1h-1zM573 171h3v1h-3zM572 172h5v1h-5zM571 173h7v1h-7zM573 174h3v1h-3zM573 175h3v1h-3z"/><path fill="#fff" d="M573 176h3v1h-3zM572 177h5v1h-5zM571 178h7v1h-7zM570 179h9v1h-9zM570 180h9v1h-9zM570 181h9v1h-9zM572 182h5v1h-5zM572 183h5v1h-5z"/><path fill="#1e5aaa" d="M574 177h1v1h-1zM573 178h3v1h-3zM572 179h5v1h-5zM571 180h7v1h-7zM573 181h3v1h-3zM573 182h3v1h-3z"/><path fill="#fff" d="M592 158h5v1h-5zM592 159h5v1h-5zM590 160h9v1h-9zM590 161h9v1h-9zM590 162h9v1h-9zM591 163h7v1h-7zM592 164h5v1h-5zM593 165h3v1h-3z"/><path fill="#e6461e" d="M593 159h3v1h-3zM593 160h3v1h-3zM591 161h7v1h-7zM592 162h5v1h-5zM593 163h3v1h-3zM594 164h1v1h-1z"/><path fill="#fff" d="M596 162h5v1h-5zM596 163h5v1h-5zM594 164h9v1h-9zM594 165h9v1h-9zM594 166h9v1h-9zM595 167h7v1h-7zM596 168h5v1h-5zM597 169h3v1h-3z"/><path fill="#e6461e" d="M597 163h3v1h-3zM597 164h3v1h-3zM595 165h7v1h-7zM596 166h5v1h-5zM597 167h3v1h-3zM598 168h1v1h-1z"/><path fill="#fff" d="M593 168h3v1h-3zM592 169h5v1h-5zM591 170h7v1h-7zM590 171h9v1h-9zM590 172h9v1h-9zM590 173h9v1h-9zM592 174h5v1h-5zM592 175h5v1h-5z"/><path fill="#1e5aaa" d="M594 169h1v1h-1zM593 170h3v1h-3zM592 171h5v1h-5zM591 172h7v1h-7zM593 173h3v1h-3zM593 174h3v1h-3z"/><path fill="#fff" d="M597 172h3v1h-3zM596 173h5v1h-5zM595 174h7v1h-7zM594 175h9v1h-9zM594 176h9v1h-9zM594 177h9v1h-9zM596 178h5v1h-5zM596 179h5v1h-5z"/><path fill="#1e5aaa" d="M598 173h1v1h-1zM597 174h3v1h-3zM596 175h5v1h-5zM595 176h7v1h-7zM597 177h3v1h-3zM597 178h3v1h-3z"/><rect x="502" y="175" width="1" height="1" fill="#00ff00"/><rect x="502" y="176" width="1" height="2" fill="#1e5aaa"/><rect x="574" y="166" width="1" height="3" fill="#1e5aaa"/><path fill="#fff" d="M599 148h7v1h1v23h-9v-23h1z"/><rect x="601" y="149" width="3" height="1" fill="#e6461e"/><rect x="599" y="151" width="1" height="1" fill="#e6461e"/><rect x="605" y="151" width="1" height="1" fill="#e6461e"/><path fill="#e6461e" d="M601 152h3v2h-3zM599 154h7v1h-7zM600 155h5v1h-5zM601 156h3v1h-3zM602 157h1v18h-1zM600 157h1v1h-1zM604 157h1v1h-1zM599 158h1v1h-1zM605 158h1v1h-1z"/><path fill="#1e5aaa" d="M601 160h1v1h-1zM603 160h1v1h-1zM600 161h2v1h-2zM603 161h2v1h-2zM599 162h3v1h-3zM603 162h3v1h-3zM601 164h1v1h-1zM603 164h1v1h-1zM600 165h2v1h-2zM603 165h2v1h-2zM599 166h3v1h-3zM603 166h3v1h-3zM601 167h1v2h-1zM603 167h1v2h-1zM599 169h1v1h-1zM605 169h1v1h-1zM601 170h3v2h-3z"/><path fill="#fff" d="M601 176h3v1h-3zM600 177h5v1h-5zM599 178h7v1h-7zM598 179h9v1h-9zM598 180h9v1h-9zM598 181h9v1h-9zM600 182h5v1h-5zM600 183h5v1h-5z"/><path fill="#1e5aaa" d="M602 177h1v1h-1zM601 178h3v1h-3zM600 179h5v1h-5zM599 180h7v1h-7zM601 181h3v1h-3zM601 182h3v1h-3z"/></g><path d="M630 117.2 L637.6 124.8 L634.2 124.8 L634.2 138.2 L625.8 138.2 L625.8 124.8 L622.4 124.8 Z" fill="none" stroke="#00ffff" stroke-width="1.6" stroke-linejoin="miter"/>
<path fill="#000" d="M0 0h800v2h-800zM0 0h2v600h-2zM748 0h52v600h-52zM0 467h800v1h-800zM0 580h800v20h-800z"/>
<g shape-rendering="crispEdges" fill="#fff">
<rect x="2" y="2" width="746" height="1"/>
<rect x="2" y="2" width="1" height="465"/>
<rect x="2" y="466" width="746" height="1"/>
<rect x="747" y="2" width="1" height="465"/>
<rect x="2" y="468" width="746" height="1"/>
<rect x="2" y="468" width="1" height="112"/>
<rect x="2" y="579" width="746" height="1"/>
<rect x="747" y="468" width="1" height="112"/>
<rect x="748" y="17" width="4" height="1"/>
<rect x="748" y="49" width="4" height="1"/>
<rect x="748" y="81" width="4" height="1"/>
<rect x="748" y="113" width="4" height="1"/>
<rect x="748" y="145" width="4" height="1"/>
<rect x="748" y="177" width="4" height="1"/>
<rect x="748" y="209" width="4" height="1"/>
<rect x="748" y="241" width="4" height="1"/>
<rect x="748" y="273" width="4" height="1"/>
<rect x="748" y="306" width="4" height="1"/>
<rect x="748" y="338" width="4" height="1"/>
<rect x="748" y="370" width="4" height="1"/>
<rect x="748" y="402" width="4" height="1"/>
<rect x="748" y="434" width="4" height="1"/>
<rect x="748" y="469" width="4" height="1"/>
<rect x="748" y="537" width="4" height="1"/>
<rect x="748" y="578" width="4" height="1"/>
<rect x="66" y="580" width="1" height="4"/>
<rect x="130" y="580" width="1" height="4"/>
<rect x="194" y="580" width="1" height="4"/>
<rect x="258" y="580" width="1" height="4"/>
<rect x="322" y="580" width="1" height="4"/>
<rect x="386" y="580" width="1" height="4"/>
<rect x="450" y="580" width="1" height="4"/>
<rect x="514" y="580" width="1" height="4"/>
<rect x="578" y="580" width="1" height="4"/>
<rect x="2" y="580" width="1" height="4"/>
</g>
<text x="753.4" y="21" textLength="32" lengthAdjust="spacingAndGlyphs">1.38230</text>
<text x="753.4" y="53" textLength="32" lengthAdjust="spacingAndGlyphs">1.37210</text>
<text x="753.4" y="85" textLength="32" lengthAdjust="spacingAndGlyphs">1.36190</text>
<text x="753.4" y="117" textLength="32" lengthAdjust="spacingAndGlyphs">1.35170</text>
<text x="753.4" y="149" textLength="32" lengthAdjust="spacingAndGlyphs">1.34150</text>
<text x="753.4" y="181" textLength="32" lengthAdjust="spacingAndGlyphs">1.33130</text>
<text x="753.4" y="213" textLength="32" lengthAdjust="spacingAndGlyphs">1.32110</text>
<text x="753.4" y="245" textLength="32" lengthAdjust="spacingAndGlyphs">1.31090</text>
<text x="753.4" y="277" textLength="32" lengthAdjust="spacingAndGlyphs">1.30070</text>
<text x="753.4" y="310" textLength="32" lengthAdjust="spacingAndGlyphs">1.29050</text>
<text x="753.4" y="342" textLength="32" lengthAdjust="spacingAndGlyphs">1.28030</text>
<text x="753.4" y="374" textLength="32" lengthAdjust="spacingAndGlyphs">1.27010</text>
<text x="753.4" y="406" textLength="32" lengthAdjust="spacingAndGlyphs">1.25990</text>
<text x="753.4" y="438" textLength="32" lengthAdjust="spacingAndGlyphs">1.24970</text>
<text x="753.4" y="477" textLength="37" lengthAdjust="spacingAndGlyphs">0.006221</text>
<text x="753.4" y="541" textLength="37" lengthAdjust="spacingAndGlyphs">0.000000</text>
<text x="753.4" y="577" textLength="40.5" lengthAdjust="spacingAndGlyphs">-0.003849</text>
<rect shape-rendering="crispEdges" x="750" y="30" width="39" height="11" fill="#ff0000"/>
<text class="k" x="753.4" y="38" textLength="32" lengthAdjust="spacingAndGlyphs">1.37639</text>
<rect shape-rendering="crispEdges" x="750" y="99" width="39" height="11" fill="#ff0000"/>
<text class="k" x="753.4" y="107" textLength="32" lengthAdjust="spacingAndGlyphs">1.35444</text>
<rect shape-rendering="crispEdges" x="750" y="153" width="39" height="11" fill="#778899"/>
<text class="k" x="753.4" y="161" textLength="32" lengthAdjust="spacingAndGlyphs">1.33752</text>
<rect shape-rendering="crispEdges" x="750" y="168" width="39" height="11" fill="#00ffff"/>
<text class="k" x="753.4" y="176" textLength="32" lengthAdjust="spacingAndGlyphs">1.33249</text>
<rect shape-rendering="crispEdges" x="750" y="182" width="39" height="11" fill="#00ffff"/>
<text class="k" x="753.4" y="190" textLength="32" lengthAdjust="spacingAndGlyphs">1.32831</text>
<text x="1.7" y="592" textLength="51.3" lengthAdjust="spacingAndGlyphs">27 Oct 2020</text>
<text x="65.7" y="592" textLength="53.8" lengthAdjust="spacingAndGlyphs">30 Oct 00:00</text>
<text x="129.7" y="592" textLength="51.8" lengthAdjust="spacingAndGlyphs">3 Nov 12:00</text>
<text x="193.7" y="592" textLength="52.8" lengthAdjust="spacingAndGlyphs">6 Nov 04:00</text>
<text x="257.7" y="592" textLength="56.05" lengthAdjust="spacingAndGlyphs">10 Nov 16:00</text>
<text x="321.7" y="592" textLength="56.3" lengthAdjust="spacingAndGlyphs">13 Nov 08:00</text>
<text x="385.7" y="592" textLength="57.3" lengthAdjust="spacingAndGlyphs">17 Nov 20:00</text>
<text x="449.7" y="592" textLength="56.8" lengthAdjust="spacingAndGlyphs">20 Nov 12:00</text>
<text x="513.7" y="592" textLength="56.8" lengthAdjust="spacingAndGlyphs">25 Nov 00:00</text>
<text x="577.7" y="592" textLength="56.8" lengthAdjust="spacingAndGlyphs">27 Nov 16:00</text>
<text x="7" y="13" textLength="67" lengthAdjust="spacingAndGlyphs">GBPUSD.c, H4:</text><text x="80" y="13" textLength="212" lengthAdjust="spacingAndGlyphs">Great Britain Pound vs US Dollar Forward contract,</text><text x="297" y="14" textLength="43.5" lengthAdjust="spacingAndGlyphs" style="font-size:9px">英镑对美元</text><text x="6" y="481" textLength="66" lengthAdjust="spacingAndGlyphs">MACD(12,26,9)</text><text x="74.6" y="481" textLength="37" lengthAdjust="spacingAndGlyphs">0.000594</text><text x="115.1" y="481" textLength="38" lengthAdjust="spacingAndGlyphs">0.000499</text><text x="8" y="151" textLength="10" lengthAdjust="spacingAndGlyphs">SL</text><text x="8" y="157" textLength="87" lengthAdjust="spacingAndGlyphs">SELL 0.02 at 1.33712</text>
</svg></body></html>
